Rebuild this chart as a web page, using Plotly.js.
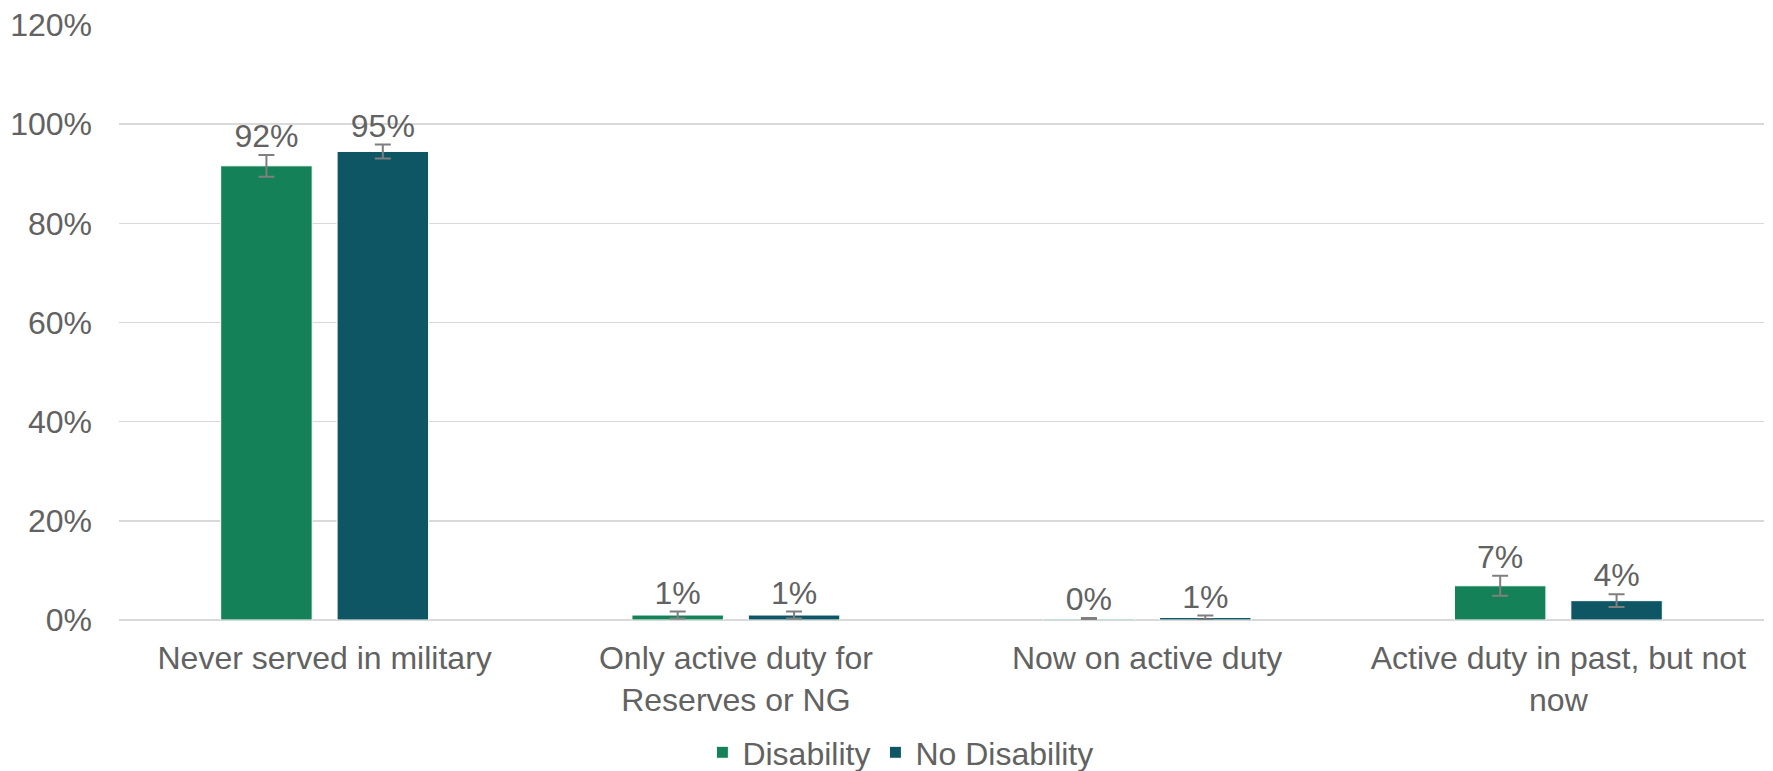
<!DOCTYPE html>
<html>
<head>
<meta charset="utf-8">
<script src="https://cdn.plot.ly/plotly-3.0.1.min.js"></script>
<style>html,body{margin:0;padding:0;background:#fff;}#chart{width:1773px;height:771px;}</style>
</head>
<body>
<div id="chart"></div>
<script>
const categories = ["Never served in military", "Only active duty for<br>Reserves or NG", "Now on active duty", "Active duty in past, but not<br>now"];
const disability = [0.916, 0.010, 0.002, 0.069];
const disabilityErr = [0.022, 0.007, 0.002, 0.020];
const disabilityLabels = ["92%", "1%", "0%", "7%"];
const noDisability = [0.945, 0.010, 0.005, 0.039];
const noDisabilityErr = [0.014, 0.007, 0.004, 0.013];
const noDisabilityLabels = ["95%", "1%", "1%", "4%"];
const yTicks = [0, 0.2, 0.4, 0.6, 0.8, 1.0, 1.2];
const yTickText = ["0%", "20%", "40%", "60%", "80%", "100%", "120%"];

const font = {family: "Liberation Sans, Arial, sans-serif", size: 32, color: "#626262"};
const errStyle = {type: "data", visible: true, color: "#7F7F7F", thickness: 2, width: 8};

const traces = [
  {type: "bar", name: "Disability", x: categories, y: disability, offsetgroup: "a",
   marker: {color: "#148158", line: {color: "#FFFFFF", width: 1}},
   error_y: Object.assign({array: disabilityErr}, errStyle), hoverinfo: "skip"},
  {type: "bar", name: "No Disability", x: categories, y: noDisability, offsetgroup: "b",
   marker: {color: "#0F5665", line: {color: "#FFFFFF", width: 1}},
   error_y: Object.assign({array: noDisabilityErr}, errStyle), hoverinfo: "skip"},
  {type: "scatter", mode: "text", x: categories, y: disability.map((v, i) => v + disabilityErr[i]),
   text: disabilityLabels, textposition: "top center", textfont: font, offsetgroup: "a",
   showlegend: false, hoverinfo: "skip", cliponaxis: false},
  {type: "scatter", mode: "text", x: categories, y: noDisability.map((v, i) => v + noDisabilityErr[i]),
   text: noDisabilityLabels, textposition: "top center", textfont: font, offsetgroup: "b",
   showlegend: false, hoverinfo: "skip", cliponaxis: false}
];

const layout = {
  width: 1773, height: 771,
  margin: {l: 119, r: 9, t: 25, b: 151, autoexpand: false},
  paper_bgcolor: "#FFFFFF", plot_bgcolor: "#FFFFFF",
  font: font,
  barmode: "group", scattermode: "group",
  bargap: 0.434, bargroupgap: 0.214, scattergap: 0.434,
  showlegend: true,
  legend: {orientation: "h", x: 0.475, xanchor: "center", yref: "container", y: 0.024, yanchor: "middle",
           font: font, itemwidth: 30, traceorder: "normal"},
  xaxis: {type: "category", showgrid: false, zeroline: false, showline: false, ticks: "",
          tickfont: font, ticklabelstandoff: 16, automargin: false},
  yaxis: {range: [0, 1.2], tickvals: yTicks, ticktext: yTickText, showgrid: true,
          gridcolor: "#D9D9D9", gridwidth: 1.5, zeroline: true, zerolinecolor: "#D9D9D9",
          zerolinewidth: 1.5, showline: false, ticks: "", tickfont: font,
          ticklabelstandoff: 26, automargin: false, fixedrange: true}
};

Plotly.newPlot("chart", traces, layout, {staticPlot: true, displayModeBar: false});
</script>
</body>
</html>
